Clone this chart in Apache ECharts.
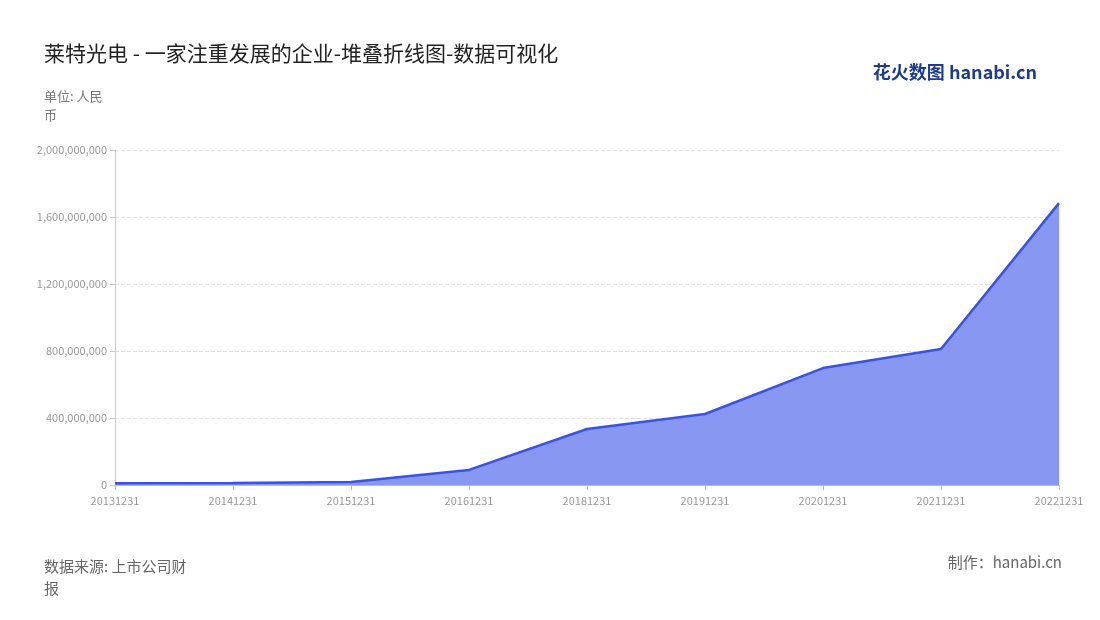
<!DOCTYPE html>
<html><head><meta charset="utf-8">
<script src="https://cdn.jsdelivr.net/npm/echarts@6/dist/echarts.min.js"></script>
<style>html,body{margin:0;padding:0;background:#fff}#c{width:1100px;height:620px}</style>
</head><body><div id="c"></div>
<script>
const categories = ['20131231','20141231','20151231','20161231','20181231','20191231','20201231','20211231','20221231'];
const values = [10000000,12000000,18000000,90000000,334000000,424000000,698000000,812000000,1683000000];
const yTicks = {min:0,max:2000000000,interval:400000000};
const ch = echarts.init(document.getElementById('c'));
const F = '"Noto Sans CJK SC","Noto Sans",sans-serif';
ch.setOption({
  textStyle:{fontFamily:F},
  title:[
    {text:'莱特光电 - 一家注重发展的企业-堆叠折线图-数据可视化',left:39,top:38,textStyle:{fontSize:21,fontWeight:'normal',color:'#222',fontFamily:F}},
    {text:'单位: 人民\n币',left:39,top:82,textStyle:{fontSize:13,fontWeight:'normal',color:'#777',lineHeight:19,fontFamily:F}},
    {text:'数据来源: 上市公司财\n报',left:39,top:550,textStyle:{fontSize:15,fontWeight:'normal',color:'#666',lineHeight:22,fontFamily:F}},
    {text:'制作：hanabi.cn',right:33,top:550,textStyle:{fontSize:15,fontWeight:'normal',color:'#666',fontFamily:F}},
    {text:'花火数图 hanabi.cn',right:58,top:58,textStyle:{fontSize:18,fontWeight:'bold',color:'#1f3c8c',fontFamily:F}}
  ],
  grid:{left:115,right:41,top:150,bottom:135},
  xAxis:{type:'category',data:categories,boundaryGap:false,
    axisLine:{lineStyle:{color:'#bbb'}},axisTick:{show:true,lineStyle:{color:'#bbb'}},
    axisLabel:{color:'#999',fontSize:11,margin:10}},
  yAxis:{type:'value',min:yTicks.min,max:yTicks.max,interval:yTicks.interval,
    axisLine:{show:true,lineStyle:{color:'#ccc'}},axisTick:{show:true,lineStyle:{color:'#ccc'}},
    splitLine:{lineStyle:{type:'dashed',color:'#e0e0e0'}},
    axisLabel:{color:'#999',fontSize:11,formatter:v=>v.toLocaleString('en-US')}},
  series:[{type:'line',data:values,symbol:'none',stack:'a',
    lineStyle:{color:'#3a52e6',width:2.5},
    areaStyle:{color:'#8898f2',opacity:1}}]
});
</script></body></html>
